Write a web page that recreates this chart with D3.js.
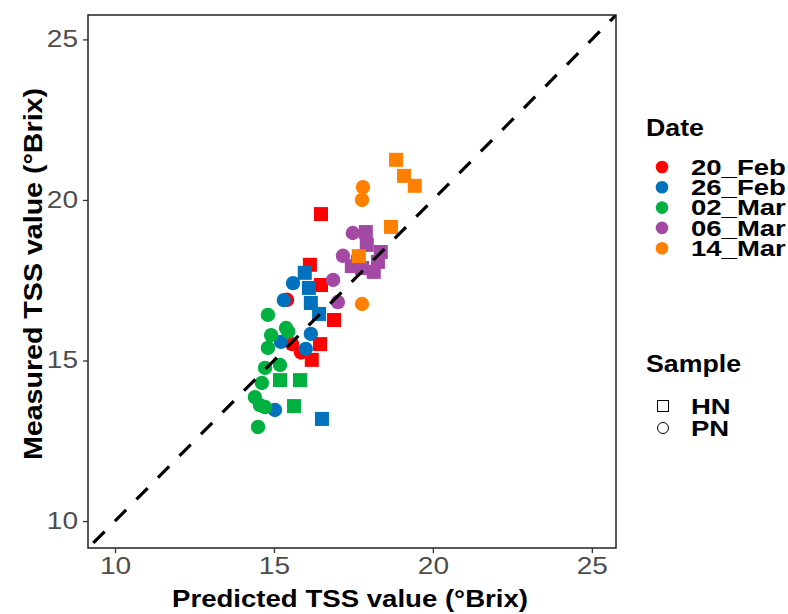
<!DOCTYPE html>
<html><head><meta charset="utf-8">
<script src="https://cdn.jsdelivr.net/npm/d3@7"></script>
<style>body{margin:0;background:#fff;} svg{font-family:"Liberation Sans",Arial,sans-serif;}</style>
</head><body>
<svg id="c" width="788" height="614"></svg>
<script>
const dates = ["20_Feb","26_Feb","02_Mar","06_Mar","14_Mar"];
const dateColors = ["#ff0000","#0072bd","#00b140","#a349a4","#ff7f00"];
const samples = ["HN","PN"];
const ticks = [10,15,20,25];
// [predicted, measured] per date & sample
const feb20_HN = [[16.48,19.56],[16.13,17.98],[16.48,17.35],[16.89,16.26],[16.45,15.51],[16.19,15.02]];
const feb20_PN = [[15.41,16.89],[15.57,15.51],[15.85,15.25]];
const feb26_HN = [[15.97,17.73],[16.10,17.26],[16.16,16.79],[16.42,16.45],[16.51,13.18]];
const feb26_PN = [[15.60,17.41],[15.31,16.88],[16.16,15.83],[15.22,15.58],[16.00,15.36],[15.03,13.46]];
const mar02_HN = [[15.19,14.39],[15.82,14.39],[15.63,13.58]];
const mar02_PN = [[14.81,16.42],[14.91,15.79],[14.81,15.39],[15.38,16.01],[15.45,15.90],[14.72,14.77],[15.19,14.86],[14.62,14.30],[14.40,13.86],[14.56,13.61],[14.72,13.55],[14.50,12.93]];
const mar06_HN = [[17.89,19.00],[17.92,18.60],[17.45,17.94],[17.77,17.88],[18.27,18.07],[18.36,18.38],[18.14,17.76]];
const mar06_PN = [[17.48,18.97],[17.17,18.26],[16.86,17.51],[17.01,16.82],[17.64,18.19]];
const mar14_HN = [[18.84,21.25],[19.09,20.75],[19.43,20.44],[18.68,19.16],[17.67,18.25]];
const mar14_PN = [[17.80,20.40],[17.77,20.00],[17.77,16.76]];

const groups = [
  {d:0,s:0,pts:feb20_HN},{d:0,s:1,pts:feb20_PN},
  {d:1,s:0,pts:feb26_HN},{d:1,s:1,pts:feb26_PN},
  {d:2,s:0,pts:mar02_HN},{d:2,s:1,pts:mar02_PN},
  {d:3,s:0,pts:mar06_HN},{d:3,s:1,pts:mar06_PN},
  {d:4,s:0,pts:mar14_HN},{d:4,s:1,pts:mar14_PN}
];

const svg = d3.select("#c");
const L=88,R=616,T=15,B=548;
const x = d3.scaleLinear().domain([9.15,25.76]).range([L,R]);
const y = d3.scaleLinear().domain([9.16,25.76]).range([B,T]);
const col = d3.scaleOrdinal().domain(dates).range(dateColors);

function stretch(sel,k){
  sel.each(function(){
    const w=this.getComputedTextLength();
    d3.select(this).attr("textLength",w*k).attr("lengthAdjust","spacingAndGlyphs");
  });
}
function fitTo(sel,w){ sel.attr("textLength",w).attr("lengthAdjust","spacingAndGlyphs"); }

svg.append("defs").append("clipPath").attr("id","clip")
  .append("rect").attr("x",L).attr("y",T).attr("width",R-L).attr("height",B-T);

const g = svg.append("g").attr("clip-path","url(#clip)");
const sq=14, rad=7.2;
groups.forEach(gr=>{
  gr.pts.forEach(p=>{
    if(gr.s===0){
      g.append("rect").attr("x",x(p[0])-sq/2).attr("y",y(p[1])-sq/2)
       .attr("width",sq).attr("height",sq).attr("fill",col(dates[gr.d]));
    } else {
      g.append("circle").attr("cx",x(p[0])).attr("cy",y(p[1])).attr("r",rad)
       .attr("fill",col(dates[gr.d]));
    }
  });
});
// identity line y = x
g.append("line").attr("x1",x(9.15)).attr("y1",y(9.15)).attr("x2",x(25.8)).attr("y2",y(25.8))
  .attr("stroke","#000").attr("stroke-width",3.2)
  .attr("stroke-dasharray","16,14.6").attr("stroke-dashoffset",23);

// frame
svg.append("rect").attr("x",L).attr("y",T).attr("width",R-L).attr("height",B-T)
  .attr("fill","none").attr("stroke","#222").attr("stroke-width",1.5);

// axes
const xa = svg.append("g").attr("transform",`translate(0,${B})`)
  .call(d3.axisBottom(x).tickValues(ticks).tickSize(5).tickPadding(5));
const ya = svg.append("g").attr("transform",`translate(${L},0)`)
  .call(d3.axisLeft(y).tickValues(ticks).tickSize(5).tickPadding(5));
[xa,ya].forEach(a=>{
  a.select(".domain").remove();
  a.selectAll(".tick line").attr("stroke","#333").attr("stroke-width",1.3);
  a.selectAll(".tick text").attr("fill","#4d4d4d").style("font-size","23px")
    .style("font-family",'"Liberation Sans",Arial,sans-serif');
  stretch(a.selectAll(".tick text"),1.22);
});

const xt = svg.append("text").attr("x",350).attr("y",607).attr("text-anchor","middle")
  .style("font-size","24px").style("font-weight","bold").text("Predicted TSS value (°Brix)");
fitTo(xt,356);
const yt = svg.append("text").attr("transform",`translate(42,274) rotate(-90)`).attr("text-anchor","middle")
  .style("font-size","25px").style("font-weight","bold").text("Measured TSS value (°Brix)");
fitTo(yt,372);

// legend
const lg = svg.append("g");
const dt = lg.append("text").attr("x",646).attr("y",136).style("font-size","24px").style("font-weight","bold").text("Date");
fitTo(dt,58);
dates.forEach((d,i)=>{
  const yy = 167 + i*20.3;
  lg.append("circle").attr("cx",662).attr("cy",yy).attr("r",6.3).attr("fill",col(d));
  const t = lg.append("text").attr("x",691).attr("y",yy+7.6).style("font-size","22px").style("font-weight","bold").text(d);
  stretch(t,1.25);
});
const st = lg.append("text").attr("x",646).attr("y",372).style("font-size","24px").style("font-weight","bold").text("Sample");
fitTo(st,95);
samples.forEach((s,i)=>{
  const yy = 406 + i*22;
  if(i===0) lg.append("rect").attr("x",657.5).attr("y",yy-5.5).attr("width",11).attr("height",11)
      .attr("fill","none").attr("stroke","#000").attr("stroke-width",1);
  else lg.append("circle").attr("cx",663).attr("cy",yy).attr("r",5.5)
      .attr("fill","none").attr("stroke","#000").attr("stroke-width",1);
  const t = lg.append("text").attr("x",691).attr("y",yy+7.6).style("font-size","22px").style("font-weight","bold").text(s);
  stretch(t,1.25);
});
</script>
</body></html>
